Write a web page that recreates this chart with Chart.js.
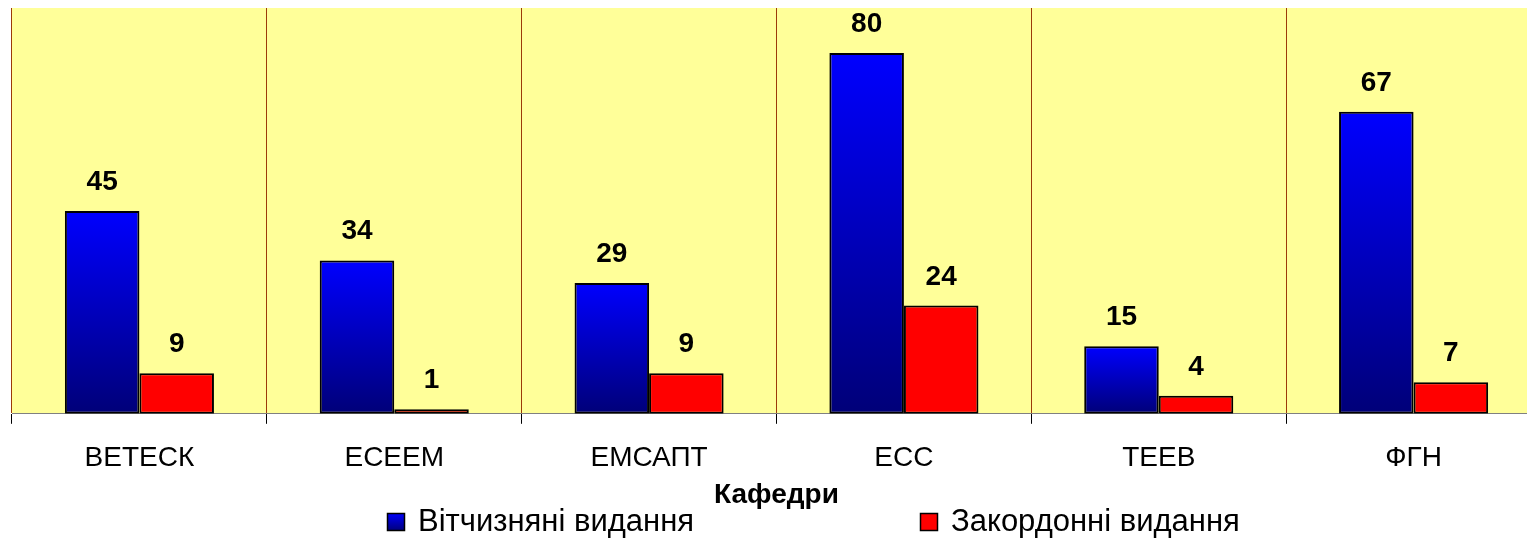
<!DOCTYPE html>
<html>
<head>
<meta charset="utf-8">
<script src="https://cdn.jsdelivr.net/npm/chart.js@4/dist/chart.umd.min.js"></script>
<style>
    html, body { margin: 0; padding: 0; overflow: hidden; background: #fff; }
</style>
</head>
<body>
<canvas id="chart" width="1542" height="539"></canvas>
<script>
const departments = ['ВЕТЕСК', 'ЕСЕЕМ', 'ЕМСАПТ', 'ЕСС', 'ТЕЕВ', 'ФГН'];
const domestic = [45, 34, 29, 80, 15, 67];
const foreign = [9, 1, 9, 24, 4, 7];
const seriesNames = ['Вітчизняні видання', 'Закордонні видання'];
const axisTitle = 'Кафедри';

const FONT = "Arial, 'Liberation Sans', sans-serif";

// blue bars: bright blue on top fading to navy at the base
function blueGradient(ctx) {
    const chart = ctx.chart;
    const y = chart.scales.y;
    if (!y || typeof ctx.raw !== 'number') {
        return '#0000ff';
    }
    const top = y.getPixelForValue(ctx.raw);
    const base = y.getPixelForValue(0);
    if (!isFinite(top) || !isFinite(base) || top === base) {
        return '#0000ff';
    }
    const g = chart.ctx.createLinearGradient(0, top, 0, base);
    g.addColorStop(0, '#0000ff');
    g.addColorStop(1, '#000078');
    return g;
}

const plotBackground = {
    id: 'plotBackground',
    beforeDraw(chart) {
        const { ctx, chartArea: a } = chart;
        ctx.save();
        ctx.fillStyle = '#ffff99';
        ctx.fillRect(a.left, a.top, a.right - a.left, a.bottom - a.top);
        ctx.restore();
    },
};

const valueLabels = {
    id: 'valueLabels',
    afterDatasetsDraw(chart) {
        const ctx = chart.ctx;
        ctx.save();
        ctx.font = 'bold 28px ' + FONT;
        ctx.fillStyle = '#000';
        ctx.textAlign = 'center';
        ctx.textBaseline = 'alphabetic';
        chart.data.datasets.forEach((ds, i) => {
            chart.getDatasetMeta(i).data.forEach((bar, j) => {
                ctx.fillText(String(ds.data[j]), bar.x, bar.y - 21);
            });
        });
        ctx.restore();
    },
};

// legend drawn by hand so the two entries sit as far apart as in the original
const legendX = [387, 920];
const legendBox = {
    id: 'legendBox',
    afterDraw(chart) {
        const ctx = chart.ctx;
        const boxTop = 513;
        const size = 18;
        ctx.save();
        ctx.font = '31px ' + FONT;
        ctx.textBaseline = 'alphabetic';
        ctx.textAlign = 'left';
        seriesNames.forEach((name, i) => {
            const x = legendX[i];
            if (i === 0) {
                const g = ctx.createLinearGradient(0, boxTop, 0, boxTop + size);
                g.addColorStop(0, '#0000ff');
                g.addColorStop(1, '#000078');
                ctx.fillStyle = g;
            } else {
                ctx.fillStyle = '#ff0000';
            }
            ctx.fillRect(x, boxTop, size, size);
            ctx.strokeStyle = '#000';
            ctx.lineWidth = 1.5;
            ctx.strokeRect(x + 0.5, boxTop + 0.5, size - 1, size - 1);
            ctx.fillStyle = '#000';
            ctx.fillText(name, x + size + 13, 531);
        });
        ctx.restore();
    },
};

new Chart(document.getElementById('chart'), {
    type: 'bar',
    data: {
        labels: departments,
        datasets: [{
            label: seriesNames[0],
            data: domestic,
            backgroundColor: blueGradient,
            borderColor: '#000',
            borderWidth: 2,
            borderSkipped: false,
            categoryPercentage: 0.585,
            barPercentage: 1,
        }, {
            label: seriesNames[1],
            data: foreign,
            backgroundColor: '#ff0000',
            borderColor: '#000',
            borderWidth: 2,
            borderSkipped: false,
            categoryPercentage: 0.585,
            barPercentage: 1,
        }],
    },
    options: {
        responsive: false,
        animation: false,
        layout: {
            padding: { left: 12, right: 1, top: 8, bottom: 27 },
        },
        plugins: {
            legend: { display: false },
            tooltip: { enabled: false },
        },
        scales: {
            x: {
                grid: {
                    offset: true,
                    color: '#9c3a08',
                    tickColor: '#000',
                    tickLength: 10,
                    lineWidth: 1,
                },
                border: { color: '#808080', width: 1 },
                ticks: {
                    color: '#000',
                    padding: 18,
                    font: { family: FONT, size: 28 },
                    maxRotation: 0,
                },
                title: {
                    display: true,
                    text: axisTitle,
                    color: '#000',
                    font: { family: FONT, size: 28, weight: 'bold' },
                    padding: { top: -15, bottom: 0 },
                },
            },
            y: {
                display: false,
                min: 0,
                max: 90,
            },
        },
    },
    plugins: [plotBackground, valueLabels, legendBox],
});
</script>
</body>
</html>
